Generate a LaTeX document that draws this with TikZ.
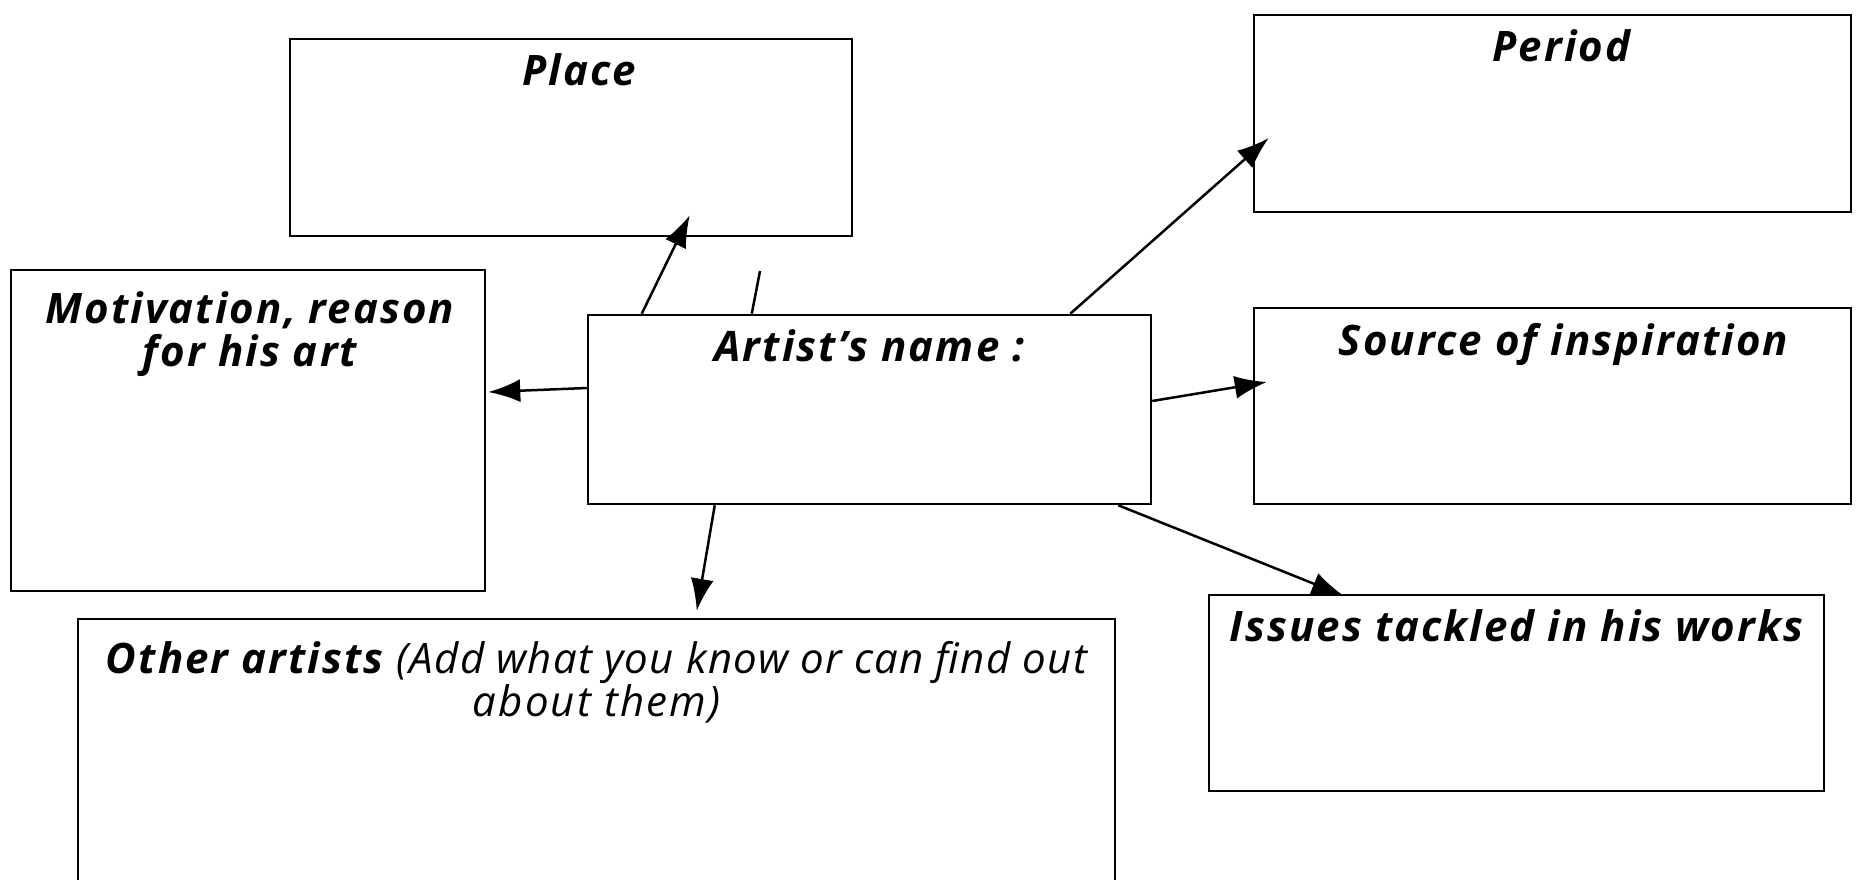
\documentclass[tikz,border=0pt]{standalone}
\usepackage{fontspec}
\setmainfont{Open Sans}
\usepackage{tikz}
\usetikzlibrary{positioning}
\usetikzlibrary{arrows.meta}

\begin{document}
\begin{tikzpicture}[x=1pt,y=-1pt,->,>={Latex[length=32pt,width=23pt]},
  line width=2.5pt,
  box/.style={draw,rectangle,inner sep=0pt,fill=white},
  title/.style={font=\fontsize{42}{43}\selectfont\addfontfeatures{LetterSpace=5}\bfseries\itshape,
    inner sep=0pt,align=center}]

  \useasboundingbox (0,0) rectangle (1856,880);

  % boxes
  \node[box,minimum width=562pt,minimum height=197pt] (place) at (571,137.5) {};
  \node[box,minimum width=597pt,minimum height=197pt] (period) at (1552.5,113.5) {};
  \node[box,minimum width=474pt,minimum height=321pt] (motive) at (248,430.5) {};
  \node[box,minimum width=563pt,minimum height=189pt] (artist) at (869.5,409.5) {};
  \node[box,minimum width=597pt,minimum height=196pt] (source) at (1552.5,406) {};
  \node[box,minimum width=615pt,minimum height=196pt] (issues) at (1516.5,693) {};
  \node[box,minimum width=1037pt,minimum height=341pt] (others) at (596.5,789.5) {};

  % titles
  \node[title,anchor=north] (placeT) [below=15pt of place.north,xshift=8pt] {Place};
  \node[title,anchor=north] (periodT) [below=15pt of period.north,xshift=9pt] {Period};
  \node[title,anchor=north] (motiveT) [below=22pt of motive.north,xshift=2pt] {Motivation, reason\\for his art};
  \node[title,anchor=north] (artistT) [below=15pt of artist.north] {Artist’s name :};
  \node[title,anchor=north] (sourceT) [below=15pt of source.north,xshift=11pt] {Source of inspiration};
  \node[title,anchor=north] (issuesT) [below=15pt of issues.north] {Issues tackled in his works};
  \node[title,anchor=north] (othersT) [below=22pt of others.north]
    {Other artists {\mdseries\addfontfeatures{LetterSpace=3}(Add what you know or can find out}\\{\mdseries about them)}};

  \coordinate (stray) at (760,271);

  % connectors
  \draw ([shift={(55,0)}]artist.north west) -- ([shift={(401,-22)}]place.south west);
  \draw[-] ([shift={(165,0)}]artist.north west) -- (stray);
  \draw ([shift={(0,-21.5)}]artist.west) -- ([shift={(2,-38.5)}]motive.east);
  \draw ([shift={(-82,0)}]artist.north east) -- ([shift={(16,24.5)}]period.west);
  \draw ([shift={(0,-8.5)}]artist.east) -- ([shift={(14,-24)}]source.west);
  \draw ([shift={(-34,0)}]artist.south east) -- ([shift={(136,2)}]issues.north west);
  \draw ([shift={(128,0)}]artist.south west) -- ([shift={(620,-7)}]others.north west);
\end{tikzpicture}
\end{document}
